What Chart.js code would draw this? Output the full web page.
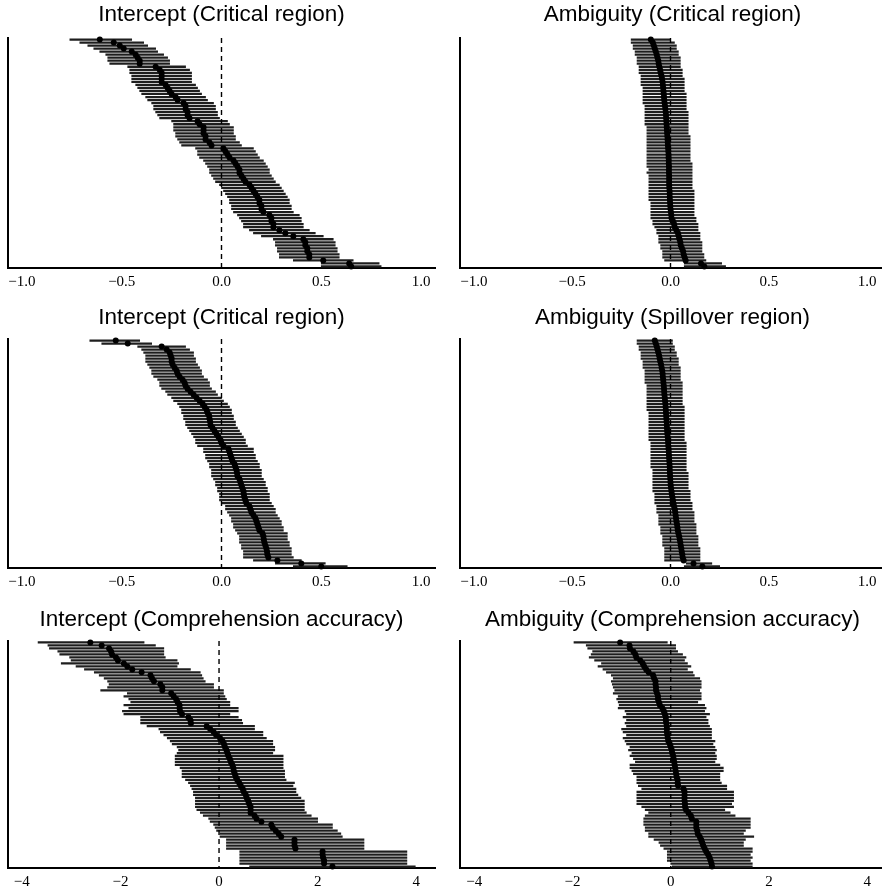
<!DOCTYPE html>
<html>
<head>
<meta charset="utf-8">
<script src="https://cdn.jsdelivr.net/npm/chart.js@4.4.1/dist/chart.umd.min.js"></script>
<style>
  html, body { margin: 0; padding: 0; background: #fff; overflow: hidden; }
  #wrap { position: relative; width: 885px; height: 890px; }
  canvas { position: absolute; }
</style>
</head>
<body>
<div id="wrap">
  <canvas id="c1" width="442" height="300" style="left:0;top:0"></canvas>
  <canvas id="c2" width="443" height="300" style="left:442px;top:0"></canvas>
  <canvas id="c3" width="442" height="300" style="left:0;top:300px"></canvas>
  <canvas id="c4" width="443" height="300" style="left:442px;top:300px"></canvas>
  <canvas id="c5" width="442" height="300" style="left:0;top:600px"></canvas>
  <canvas id="c6" width="443" height="300" style="left:442px;top:600px"></canvas>
</div>
<script>
// one row per subject, sorted by estimate
const subjects = Array.from({ length: 76 }, (_, i) => String(i + 1));

const smallTicks = [-1, -0.5, 0, 0.5, 1];
const smallTickLabels = ["\u22121.0", "\u22120.5", "0.0", "0.5", "1.0"];
const largeTicks = [-4, -2, 0, 2, 4];
const largeTickLabels = ["\u22124", "\u22122", "0", "2", "4"];
const refLine = 0;

// Intercept (Critical region)
const icEst = [-0.61,-0.54,-0.51,-0.49,-0.45,-0.43,-0.42,-0.41,-0.41,-0.33,
  -0.31,-0.30,-0.30,-0.30,-0.30,-0.28,-0.27,-0.26,-0.25,-0.23,
  -0.22,-0.19,-0.18,-0.18,-0.17,-0.17,-0.16,-0.12,-0.11,-0.09,
  -0.09,-0.09,-0.08,-0.08,-0.06,-0.05,0.01,0.02,0.03,0.04,
  0.06,0.07,0.08,0.09,0.09,0.10,0.11,0.12,0.14,0.15,
  0.16,0.17,0.18,0.19,0.19,0.20,0.20,0.21,0.24,0.25,
  0.25,0.26,0.26,0.29,0.32,0.36,0.41,0.42,0.42,0.43,
  0.43,0.44,0.44,0.51,0.64,0.65];
const icLo = [-0.76,-0.71,-0.67,-0.64,-0.61,-0.58,-0.57,-0.57,-0.56,-0.47,
  -0.46,-0.46,-0.45,-0.45,-0.45,-0.43,-0.42,-0.41,-0.40,-0.38,
  -0.37,-0.35,-0.34,-0.34,-0.33,-0.32,-0.31,-0.25,-0.24,-0.24,
  -0.24,-0.23,-0.23,-0.22,-0.21,-0.20,-0.13,-0.12,-0.12,-0.11,
  -0.09,-0.08,-0.07,-0.06,-0.06,-0.05,-0.04,-0.03,-0.01,0.00,
  0.01,0.02,0.03,0.04,0.04,0.05,0.05,0.06,0.08,0.09,
  0.10,0.11,0.11,0.14,0.16,0.20,0.26,0.27,0.27,0.28,
  0.28,0.29,0.29,0.36,0.50,0.50];
const icHi = [-0.45,-0.39,-0.37,-0.33,-0.32,-0.29,-0.27,-0.26,-0.26,-0.18,
  -0.16,-0.15,-0.15,-0.15,-0.15,-0.13,-0.12,-0.11,-0.10,-0.08,
  -0.07,-0.04,-0.03,-0.03,-0.02,-0.02,-0.01,0.03,0.04,0.06,
  0.06,0.06,0.07,0.07,0.09,0.10,0.16,0.17,0.18,0.19,
  0.21,0.22,0.23,0.24,0.24,0.25,0.26,0.27,0.29,0.30,
  0.31,0.32,0.33,0.34,0.34,0.35,0.35,0.36,0.39,0.40,
  0.40,0.41,0.41,0.44,0.47,0.51,0.56,0.57,0.57,0.58,
  0.58,0.59,0.59,0.66,0.79,0.80];

// Ambiguity (Critical region)
const acEst = [-0.10,-0.09,-0.085,-0.08,-0.075,-0.07,-0.066,-0.062,-0.06,-0.057,
  -0.053,-0.05,-0.046,-0.043,-0.04,-0.039,-0.037,-0.036,-0.034,-0.033,
  -0.032,-0.03,-0.028,-0.026,-0.024,-0.023,-0.022,-0.021,-0.02,-0.019,
  -0.018,-0.017,-0.016,-0.015,-0.014,-0.013,-0.012,-0.011,-0.01,-0.01,
  -0.009,-0.009,-0.008,-0.008,-0.008,-0.007,-0.007,-0.007,-0.007,-0.006,
  -0.005,-0.004,-0.004,-0.003,-0.002,-0.001,0.0,0.002,0.004,0.005,
  0.012,0.018,0.022,0.03,0.038,0.042,0.046,0.05,0.052,0.058,
  0.064,0.067,0.072,0.077,0.155,0.172];
const acLo = [-0.20,-0.20,-0.19,-0.19,-0.18,-0.18,-0.17,-0.17,-0.17,-0.16,
  -0.16,-0.16,-0.15,-0.15,-0.15,-0.15,-0.14,-0.14,-0.14,-0.14,
  -0.14,-0.14,-0.13,-0.13,-0.13,-0.13,-0.13,-0.13,-0.13,-0.12,
  -0.12,-0.12,-0.12,-0.12,-0.12,-0.12,-0.12,-0.12,-0.12,-0.12,
  -0.12,-0.12,-0.12,-0.11,-0.12,-0.11,-0.11,-0.11,-0.11,-0.11,
  -0.11,-0.11,-0.11,-0.11,-0.10,-0.10,-0.10,-0.10,-0.10,-0.10,
  -0.09,-0.09,-0.08,-0.07,-0.07,-0.06,-0.06,-0.06,-0.05,-0.05,
  -0.04,-0.04,-0.04,-0.03,0.07,0.07];
const acHi = [0.00,0.02,0.03,0.03,0.04,0.04,0.05,0.05,0.05,0.05,
  0.06,0.06,0.06,0.07,0.07,0.07,0.07,0.07,0.08,0.08,
  0.08,0.08,0.08,0.08,0.09,0.09,0.09,0.09,0.09,0.09,
  0.09,0.09,0.10,0.10,0.10,0.10,0.10,0.10,0.10,0.10,
  0.10,0.11,0.11,0.11,0.11,0.11,0.11,0.11,0.11,0.11,
  0.12,0.12,0.12,0.12,0.12,0.12,0.12,0.12,0.12,0.13,
  0.13,0.14,0.14,0.14,0.15,0.15,0.15,0.16,0.16,0.16,
  0.16,0.17,0.17,0.18,0.26,0.28];

// Intercept (Critical region), second model
const isEst = [-0.53,-0.47,-0.30,-0.275,-0.26,-0.255,-0.25,-0.25,-0.245,-0.235,
  -0.225,-0.22,-0.21,-0.195,-0.185,-0.18,-0.17,-0.155,-0.14,-0.125,
  -0.11,-0.095,-0.085,-0.075,-0.07,-0.062,-0.06,-0.057,-0.055,-0.045,
  -0.035,-0.025,-0.015,-0.005,0.0,0.01,0.035,0.04,0.045,0.05,
  0.055,0.065,0.07,0.075,0.078,0.08,0.09,0.095,0.10,0.105,
  0.11,0.112,0.115,0.12,0.125,0.14,0.145,0.15,0.16,0.17,
  0.175,0.18,0.185,0.19,0.205,0.21,0.212,0.215,0.22,0.225,
  0.228,0.23,0.235,0.28,0.40,0.50];
const isLo = [-0.66,-0.60,-0.42,-0.40,-0.39,-0.38,-0.38,-0.38,-0.37,-0.36,
  -0.35,-0.35,-0.34,-0.32,-0.31,-0.31,-0.30,-0.28,-0.27,-0.25,
  -0.24,-0.22,-0.21,-0.20,-0.20,-0.19,-0.19,-0.18,-0.18,-0.17,
  -0.16,-0.15,-0.14,-0.13,-0.13,-0.12,-0.09,-0.09,-0.08,-0.08,
  -0.07,-0.06,-0.06,-0.05,-0.05,-0.05,-0.04,-0.03,-0.03,-0.02,
  -0.02,-0.01,-0.01,-0.01,0.00,0.02,0.02,0.03,0.04,0.05,
  0.05,0.06,0.06,0.07,0.08,0.09,0.09,0.09,0.10,0.10,
  0.11,0.11,0.11,0.16,0.27,0.36];
const isHi = [-0.41,-0.35,-0.18,-0.16,-0.14,-0.14,-0.13,-0.13,-0.12,-0.11,
  -0.10,-0.10,-0.09,-0.07,-0.06,-0.06,-0.05,-0.03,-0.02,0.00,
  0.01,0.03,0.04,0.05,0.05,0.06,0.06,0.07,0.07,0.08,
  0.09,0.10,0.11,0.12,0.12,0.13,0.16,0.16,0.17,0.17,
  0.18,0.19,0.19,0.20,0.20,0.20,0.21,0.22,0.22,0.23,
  0.23,0.24,0.24,0.24,0.25,0.26,0.27,0.27,0.28,0.29,
  0.30,0.30,0.31,0.31,0.33,0.33,0.33,0.34,0.34,0.35,
  0.35,0.35,0.36,0.40,0.52,0.63];

// Ambiguity (Spillover region)
const asEst = [-0.08,-0.075,-0.07,-0.066,-0.062,-0.058,-0.055,-0.052,-0.048,-0.045,
  -0.042,-0.04,-0.039,-0.037,-0.036,-0.034,-0.033,-0.032,-0.031,-0.029,
  -0.028,-0.026,-0.025,-0.024,-0.023,-0.022,-0.021,-0.02,-0.019,-0.018,
  -0.017,-0.016,-0.014,-0.013,-0.012,-0.011,-0.01,-0.009,-0.008,-0.007,
  -0.006,-0.005,-0.004,-0.004,-0.003,-0.002,-0.001,0.0,0.001,0.003,
  0.005,0.007,0.01,0.012,0.015,0.018,0.022,0.024,0.026,0.028,
  0.03,0.033,0.035,0.037,0.04,0.044,0.047,0.05,0.052,0.055,
  0.057,0.06,0.062,0.067,0.117,0.162];
const asLo = [-0.17,-0.17,-0.16,-0.16,-0.15,-0.15,-0.15,-0.14,-0.14,-0.14,
  -0.13,-0.13,-0.13,-0.13,-0.13,-0.12,-0.12,-0.12,-0.12,-0.12,
  -0.12,-0.12,-0.12,-0.12,-0.11,-0.11,-0.11,-0.11,-0.11,-0.11,
  -0.11,-0.11,-0.11,-0.11,-0.10,-0.10,-0.10,-0.10,-0.10,-0.10,
  -0.10,-0.10,-0.10,-0.09,-0.09,-0.09,-0.09,-0.09,-0.09,-0.09,
  -0.09,-0.08,-0.08,-0.08,-0.08,-0.07,-0.07,-0.07,-0.06,-0.06,
  -0.06,-0.06,-0.05,-0.05,-0.05,-0.04,-0.04,-0.04,-0.04,-0.03,
  -0.03,-0.03,-0.03,-0.03,0.08,0.07];
const asHi = [0.01,0.01,0.02,0.02,0.03,0.03,0.04,0.04,0.04,0.05,
  0.05,0.05,0.05,0.05,0.06,0.06,0.06,0.06,0.06,0.06,
  0.06,0.06,0.07,0.07,0.07,0.07,0.07,0.07,0.07,0.07,
  0.07,0.07,0.07,0.07,0.08,0.08,0.08,0.08,0.08,0.08,
  0.08,0.08,0.08,0.08,0.09,0.09,0.09,0.09,0.09,0.09,
  0.10,0.10,0.10,0.10,0.11,0.11,0.11,0.12,0.12,0.12,
  0.12,0.13,0.13,0.13,0.13,0.14,0.14,0.14,0.14,0.15,
  0.15,0.15,0.15,0.15,0.21,0.25];

// Intercept (Comprehension accuracy)
const iaEst = [-2.61,-2.38,-2.23,-2.19,-2.17,-2.09,-2.05,-1.93,-1.86,-1.76,
  -1.57,-1.39,-1.36,-1.32,-1.19,-1.15,-1.15,-0.97,-0.92,-0.87,
  -0.84,-0.80,-0.80,-0.79,-0.75,-0.62,-0.58,-0.57,-0.25,-0.18,
  -0.11,-0.06,0.02,0.07,0.10,0.12,0.15,0.17,0.19,0.22,
  0.24,0.27,0.29,0.30,0.32,0.34,0.37,0.41,0.44,0.48,
  0.50,0.54,0.56,0.59,0.61,0.64,0.64,0.64,0.72,0.76,
  0.86,1.06,1.09,1.15,1.21,1.26,1.53,1.53,1.53,1.55,
  2.10,2.10,2.11,2.13,2.13,2.30];
const iaLo = [-3.67,-3.47,-3.44,-3.27,-3.23,-3.03,-3.00,-3.20,-2.90,-2.73,
  -2.53,-2.43,-2.33,-2.26,-2.23,-2.26,-2.40,-1.86,-1.93,-1.83,
  -1.79,-1.93,-1.83,-1.96,-1.93,-1.59,-1.59,-1.59,-1.46,-1.22,
  -1.19,-1.12,-1.05,-0.99,-0.95,-0.85,-0.82,-0.85,-0.89,-0.89,
  -0.89,-0.89,-0.79,-0.75,-0.75,-0.75,-0.68,-0.62,-0.58,-0.55,
  -0.52,-0.52,-0.48,-0.48,-0.48,-0.48,-0.45,-0.38,-0.32,-0.21,
  -0.18,-0.11,-0.08,-0.05,0.02,0.02,0.15,0.15,0.15,0.15,
  0.42,0.42,0.42,0.42,0.42,0.62];
const iaHi = [-1.52,-1.29,-1.12,-1.12,-1.12,-1.09,-0.85,-0.82,-0.85,-0.58,
  -0.38,-0.35,-0.32,-0.28,-0.11,-0.11,0.09,0.09,0.12,0.15,
  0.22,0.22,0.39,0.39,0.22,0.39,0.46,0.48,0.72,0.72,
  0.89,0.89,0.96,1.09,1.09,1.13,1.13,1.09,1.30,1.30,
  1.30,1.30,1.30,1.33,1.33,1.33,1.36,1.53,1.50,1.56,
  1.56,1.60,1.66,1.73,1.73,1.73,1.73,1.77,1.87,2.00,
  2.00,2.30,2.30,2.40,2.47,2.50,2.94,2.94,2.94,2.94,
  3.81,3.81,3.81,3.81,3.81,3.98];

// Ambiguity (Comprehension accuracy)
const aaEst = [-1.03,-0.84,-0.83,-0.76,-0.72,-0.70,-0.62,-0.57,-0.54,-0.50,
  -0.45,-0.36,-0.34,-0.31,-0.31,-0.30,-0.30,-0.28,-0.26,-0.26,
  -0.24,-0.22,-0.17,-0.14,-0.12,-0.10,-0.10,-0.09,-0.08,-0.08,
  -0.08,-0.07,-0.06,-0.05,-0.02,0.00,0.02,0.03,0.05,0.06,
  0.07,0.08,0.09,0.10,0.11,0.12,0.14,0.14,0.15,0.26,
  0.28,0.28,0.28,0.28,0.29,0.29,0.31,0.36,0.41,0.43,
  0.52,0.52,0.52,0.54,0.55,0.59,0.62,0.64,0.66,0.69,
  0.72,0.76,0.79,0.81,0.83,0.84];
const aaLo = [-1.97,-1.72,-1.69,-1.59,-1.62,-1.66,-1.55,-1.41,-1.48,-1.38,
  -1.31,-1.21,-1.17,-1.21,-1.19,-1.17,-1.14,-1.17,-1.07,-1.10,
  -1.07,-1.05,-1.07,-0.93,-0.90,-0.97,-0.90,-0.93,-0.90,-1.00,
  -0.97,-0.90,-0.97,-0.93,-0.90,-0.83,-0.86,-0.79,-0.83,-0.76,
  -0.72,-0.83,-0.83,-0.79,-0.76,-0.69,-0.69,-0.69,-0.66,-0.59,
  -0.69,-0.69,-0.69,-0.69,-0.69,-0.59,-0.52,-0.45,-0.52,-0.55,
  -0.55,-0.55,-0.52,-0.52,-0.45,-0.45,-0.34,-0.24,-0.21,-0.14,
  -0.07,-0.07,-0.07,-0.07,0.00,0.03];
const aaHi = [-0.07,0.10,0.10,0.14,0.24,0.31,0.28,0.34,0.41,0.34,
  0.45,0.48,0.59,0.62,0.62,0.62,0.59,0.62,0.62,0.62,
  0.55,0.69,0.72,0.69,0.79,0.72,0.76,0.76,0.79,0.83,
  0.83,0.83,0.83,0.90,0.86,0.90,0.93,0.90,0.93,0.93,
  0.90,1.00,1.07,1.07,1.00,1.00,1.00,1.03,1.14,1.14,
  1.28,1.28,1.28,1.28,1.24,1.28,1.10,1.21,1.31,1.62,
  1.62,1.62,1.62,1.52,1.48,1.69,1.52,1.48,1.48,1.66,
  1.66,1.62,1.66,1.62,1.66,1.66];

Chart.defaults.color = "#000";

const titleFont = { family: "'Liberation Sans', Arial, sans-serif", size: 22.5, weight: "normal" };
const tickFont = { family: "'Liberation Serif', 'Times New Roman', serif", size: 15 };

// dashed reference line at zero
const zeroLine = {
  id: "zeroLine",
  afterDatasetsDraw(chart) {
    const { ctx, chartArea, scales } = chart;
    const x = scales.x.getPixelForValue(refLine);
    ctx.save();
    ctx.strokeStyle = "#000";
    ctx.lineWidth = 1.4;
    ctx.setLineDash([5, 4]);
    ctx.beginPath();
    ctx.moveTo(x, chartArea.top);
    ctx.lineTo(x, chartArea.bottom);
    ctx.stroke();
    ctx.restore();
  },
};

const rowPad = [
  { top: 1.5, bottom: 9.5 },
  { top: 4.5, bottom: 7.5 },
  { top: 6.5, bottom: 7.5 },
];
const colPad = [
  { left: 8, right: 7 },
  { left: 18, right: 0 },
];

function caterpillar(id, row, col, title, est, lo, hi, xMin, xMax, ticks, tickLabels) {
  new Chart(document.getElementById(id), {
    type: "bar",
    data: {
      labels: subjects,
      datasets: [
        {
          type: "bar",
          data: lo.map((v, i) => [v, hi[i]]),
          backgroundColor: "#1e1e1e",
          borderWidth: 0,
          barThickness: 1.6,
          order: 2,
        },
        {
          type: "line",
          indexAxis: "y",
          data: est.map((v, i) => ({ x: v, y: subjects[i] })),
          showLine: false,
          pointRadius: 3,
          pointBackgroundColor: "#000",
          pointBorderWidth: 0,
          order: 1,
        },
      ],
    },
    options: {
      indexAxis: "y",
      responsive: false,
      animation: false,
      events: [],
      layout: { padding: { left: colPad[col].left, right: colPad[col].right, top: 0, bottom: 0 } },
      plugins: {
        legend: { display: false },
        tooltip: { enabled: false },
        title: {
          display: true,
          text: title,
          font: titleFont,
          color: "#000",
          padding: rowPad[row],
        },
      },
      scales: {
        y: {
          type: "category",
          offset: true,
          grid: { display: false },
          ticks: { display: false },
          border: { display: true, color: "#000", width: 2 },
          afterFit: (s) => { s.width = 0; },
        },
        x: {
          type: "linear",
          min: xMin,
          max: xMax,
          grid: { display: false, drawTicks: false },
          border: { display: true, color: "#000", width: 2 },
          afterBuildTicks: (s) => { s.ticks = ticks.map((v) => ({ value: v })); },
          afterFit: (s) => { s.height = 32; },
          ticks: {
            autoSkip: false,
            maxRotation: 0,
            padding: 5,
            font: tickFont,
            color: "#000",
            callback: (v, i) => tickLabels[i],
          },
        },
      },
    },
    plugins: [zeroLine],
  });
}

caterpillar("c1", 0, 0, "Intercept (Critical region)", icEst, icLo, icHi, -1.07, 1.07, smallTicks, smallTickLabels);
caterpillar("c2", 0, 1, "Ambiguity (Critical region)", acEst, acLo, acHi, -1.07, 1.07, smallTicks, smallTickLabels);
caterpillar("c3", 1, 0, "Intercept (Critical region)", isEst, isLo, isHi, -1.07, 1.07, smallTicks, smallTickLabels);
caterpillar("c4", 1, 1, "Ambiguity (Spillover region)", asEst, asLo, asHi, -1.07, 1.07, smallTicks, smallTickLabels);
caterpillar("c5", 2, 0, "Intercept (Comprehension accuracy)", iaEst, iaLo, iaHi, -4.28, 4.38, largeTicks, largeTickLabels);
caterpillar("c6", 2, 1, "Ambiguity (Comprehension accuracy)", aaEst, aaLo, aaHi, -4.29, 4.28, largeTicks, largeTickLabels);
</script>
</body>
</html>
